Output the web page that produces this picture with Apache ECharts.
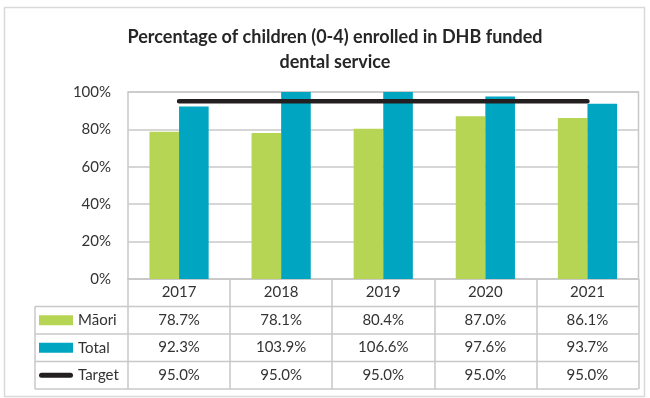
<!DOCTYPE html>
<html><head><meta charset="utf-8">
<script src="https://cdn.jsdelivr.net/npm/echarts@6/dist/echarts.min.js"></script>
<style>html,body{margin:0;padding:0;background:#fff}#c{width:650px;height:398px}</style>
</head><body><div id="c"></div>
<script>
const years = ['2017','2018','2019','2020','2021'];
const maori = [78.7, 78.1, 80.4, 87.0, 86.1];
const total = [92.3, 103.9, 106.6, 97.6, 93.7];
const target = [95.0, 95.0, 95.0, 95.0, 95.0];
const seriesNames = ['Māori', 'Total', 'Target'];
const yTicks = [0, 20, 40, 60, 80, 100];

const FONT = 'Lato';
const GREEN = '#B7D554', TEAL = '#00A6C1', BLACK = '#231F20', GRID = '#C8C8C8', TXT = '#333333';
const gL = 128, gR = 638.5, gT = 92, gB = 279, rowH = 27.5, tblL = 35;

const chart = echarts.init(document.getElementById('c'), null, {renderer: 'canvas'});
const fmt = v => v.toFixed(1) + '%';
const rowAxis = (data, off) => ({
  type: 'category', data: data.map(fmt), position: 'bottom', offset: off, gridIndex: 0,
  axisLine: {show: false}, axisTick: {show: false},
  axisLabel: {margin: 13.5, verticalAlign: 'middle', fontFamily: FONT, fontSize: 15, color: TXT, interval: 0}
});
const hLines = [rowH, 2*rowH, 3*rowH, 4*rowH].map(d => ({
  type: 'line', shape: {x1: tblL, y1: gB + d, x2: gR, y2: gB + d},
  style: {stroke: GRID, lineWidth: 1.5}, silent: true
}));
chart.setOption({
  animation: false,
  title: {text: 'Percentage of children (0-4) enrolled in DHB funded\ndental service',
    left: 330, textAlign: 'center', top: 20,
    textStyle: {fontFamily: FONT, fontWeight: 'bold', fontSize: 18, lineHeight: 25, color: '#262626'}},
  grid: {left: gL, right: 650 - gR, top: gT, bottom: 398 - gB, show: true, borderColor: GRID, borderWidth: 1.5},
  legend: {orient: 'vertical', left: 39, top: gB + rowH, itemWidth: 34, itemHeight: 10, itemGap: 0, padding: 0,
    textStyle: {fontFamily: FONT, fontSize: 15, color: TXT, lineHeight: rowH},
    data: [{name: seriesNames[0], icon: 'rect'}, {name: seriesNames[1], icon: 'rect'},
      {name: seriesNames[2], icon: 'path://M2.5,0 L31.5,0 A2.5,2.5 0 0 1 31.5,5 L2.5,5 A2.5,2.5 0 0 1 2.5,0 Z'}]},
  xAxis: [
    {type: 'category', data: years, axisLine: {show: true, lineStyle: {color: GRID, width: 1.5}},
      axisTick: {show: true, length: 4 * rowH, lineStyle: {color: GRID, width: 1.5}},
      axisLabel: {margin: 13.5, verticalAlign: 'middle', fontFamily: FONT, fontSize: 15, color: TXT}},
    rowAxis(maori, rowH), rowAxis(total, 2 * rowH), rowAxis(target, 3 * rowH)
  ],
  yAxis: {type: 'value', min: yTicks[0], max: yTicks[yTicks.length - 1], interval: 20,
    axisLine: {show: false}, axisTick: {show: false},
    splitLine: {lineStyle: {color: GRID, width: 1.5}},
    axisLabel: {formatter: '{value}%', margin: 17, fontFamily: FONT, fontSize: 15, color: TXT}},
  series: [
    {name: seriesNames[0], type: 'bar', data: maori, itemStyle: {color: GREEN}, barGap: '0%', barCategoryGap: '42%', clip: true},
    {name: seriesNames[1], type: 'bar', data: total, itemStyle: {color: TEAL}, barGap: '0%', barCategoryGap: '42%', clip: true},
    {name: seriesNames[2], type: 'line', data: target, symbol: 'none', itemStyle: {color: BLACK},
      lineStyle: {color: BLACK, width: 4.5, cap: 'round'}, z: 5}
  ],
  graphic: [
    {type: 'rect', shape: {x: 4.5, y: 7.5, width: 640, height: 389}, style: {fill: 'none', stroke: '#D9D9D9', lineWidth: 1.5}, silent: true},
    {type: 'line', shape: {x1: tblL, y1: gB + rowH, x2: tblL, y2: gB + 4 * rowH}, style: {stroke: GRID, lineWidth: 1.5}, silent: true},
    ...hLines
  ]
});
</script></body></html>
